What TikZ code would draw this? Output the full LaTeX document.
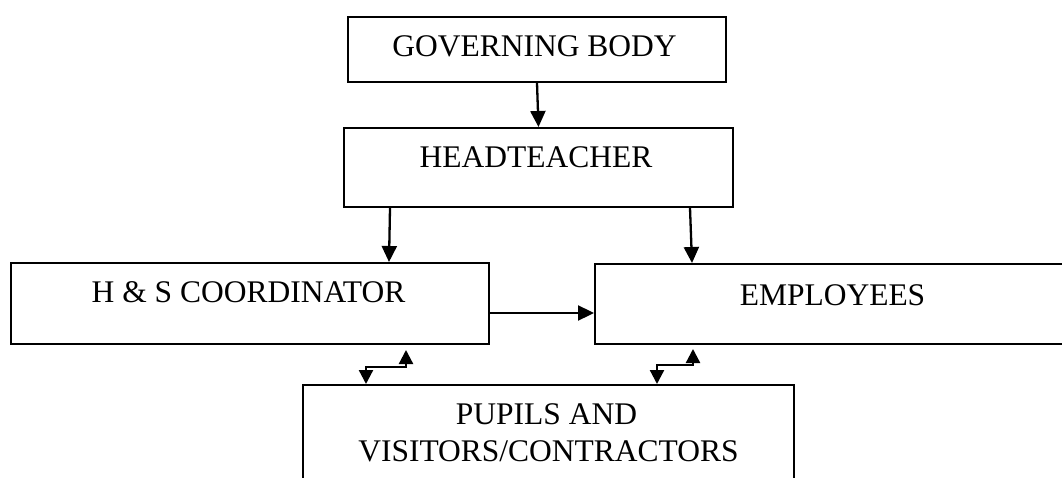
\documentclass[tikz,border=0pt]{standalone}
\usepackage{fontspec}
\setmainfont{Liberation Serif}
\usetikzlibrary{arrows.meta}
\begin{document}
\begin{tikzpicture}[x=1pt,y=-1pt,
  box/.style={draw=black,line width=2pt,inner sep=0pt,anchor=north west},
  lbl/.style={inner sep=0pt,anchor=base,font=\fontsize{31.5pt}{36pt}\selectfont},
  arr/.style={line width=2.3pt,-{Triangle[length=16pt,width=15pt]}},
  dbl/.style={line width=2.3pt,{Triangle[length=14pt,width=14pt]}-{Triangle[length=14pt,width=14pt]}}]
\useasboundingbox (0,0) rectangle (1062,478);
\clip (0,0) rectangle (1062,478);
\node[box,minimum width=378pt,minimum height=65pt] (gb) at (347,16) {};
\node[box,minimum width=389pt,minimum height=79pt] (ht) at (343,127) {};
\node[box,minimum width=478pt,minimum height=81pt] (hs) at (10,262) {};
\node[box,minimum width=500pt,minimum height=80pt] (emp) at (594,263) {};
\node[box,minimum width=491pt,minimum height=130pt] (pup) at (302,384) {};
\node[lbl] (tgb) at (534.5,57) {GOVERNING BODY};
\node[lbl] (tht) at (536,168) {HEADTEACHER};
\node[lbl] (ths) at (248.5,302) {H \& S COORDINATOR};
\node[lbl] (temp) at (832.5,305) {EMPLOYEES};
\node[lbl] (tpup1) at (546.5,424) {PUPILS AND};
\node[lbl] (tpup2) at (548.5,461) {VISITORS/CONTRACTORS};
\draw[arr] (gb.south) -- (ht.north);
\draw[arr] ([xshift=47pt]ht.south west) -- ([xshift=-101pt]hs.north east);
\draw[arr] ([xshift=-44pt]ht.south east) -- ([xshift=98pt]emp.north west);
\draw[arr] ([yshift=-9.5pt]hs.east) -- ([yshift=-9pt]emp.west);
\draw[dbl] ([xshift=64pt]pup.north west) -- ++(0,-17) -| ([xshift=-84pt,yshift=-5pt]hs.south east);
\draw[dbl] ([xshift=-138pt]pup.north east) -- ++(0,-19) -| ([xshift=99pt,yshift=-4pt]emp.south west);
\end{tikzpicture}
\end{document}
